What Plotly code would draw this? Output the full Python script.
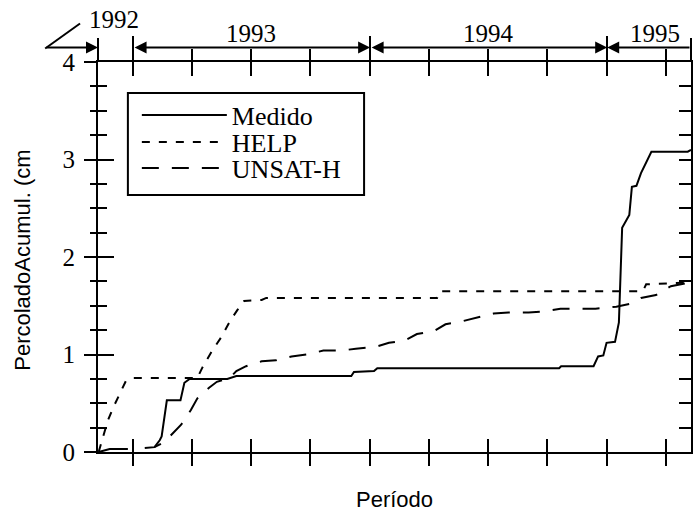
import plotly.graph_objects as go

# ---- data ----
medido_dates = ["1992-11-09", "1992-11-23", "1992-11-26", "1992-12-24", None,
                "1993-02-03", "1993-02-11", "1993-02-14", "1993-02-22", "1993-03-15",
                "1993-03-21", "1993-03-29", "1993-05-26", "1993-06-09", "1993-12-03",
                "1993-12-07", "1994-01-07", "1994-01-12", "1994-10-19", "1994-10-22",
                "1994-12-11", "1994-12-18", "1994-12-26", "1994-12-31", "1995-01-13",
                "1995-01-19", "1995-01-21", "1995-01-24", "1995-02-04", "1995-02-08",
                "1995-02-15", "1995-02-22", "1995-03-10", "1995-05-05", "1995-05-10"]
medido_vals = [0.0, 0.02, 0.03, 0.03, None,
               0.05, 0.12, 0.16, 0.53, 0.53,
               0.71, 0.75, 0.75, 0.78, 0.78,
               0.82, 0.83, 0.86, 0.86, 0.88,
               0.88, 0.98, 0.99, 1.12, 1.13,
               1.33, 1.66, 2.30, 2.43, 2.72,
               2.73, 2.86, 3.08, 3.08, 3.10]

help_dates = ["1992-11-09", "1992-11-17", "1992-11-23", "1992-12-01", "1992-12-09",
              "1992-12-15", "1992-12-21", "1992-12-30", "1993-04-10", "1993-04-18",
              "1993-05-02", "1993-05-17", "1993-05-30", "1993-06-11", "1993-06-21",
              "1993-07-18", "1993-07-25", "1994-04-14", "1994-04-18", "1995-02-25",
              "1995-03-02", "1995-05-10"]
help_vals = [0.0, 0.20, 0.32, 0.45, 0.56,
             0.65, 0.73, 0.76, 0.76, 0.87,
             1.03, 1.18, 1.34, 1.46, 1.55,
             1.56, 1.58, 1.58, 1.65, 1.65,
             1.72, 1.74]

unsat_dates = ["1993-01-19", "1993-02-03", "1993-02-18", "1993-03-01", "1993-03-16",
               "1993-03-31", "1993-04-10", "1993-04-28", "1993-05-10", "1993-05-30",
               "1993-06-09", "1993-06-24", "1993-07-18", "1993-08-09", "1993-09-02",
               "1993-09-25", "1993-10-21", "1993-11-18", "1993-12-10", "1994-01-10",
               "1994-01-30", "1994-02-22", "1994-03-14", "1994-04-09", "1994-04-27",
               "1994-05-22", "1994-06-17", "1994-07-10", "1994-08-02", "1994-09-02",
               "1994-09-25", "1994-10-21", "1994-12-14", "1995-01-15", "1995-02-05",
               "1995-02-22", "1995-03-17", "1995-04-09", "1995-05-10"]
unsat_vals = [0.04, 0.05, 0.10, 0.18, 0.28,
              0.43, 0.55, 0.66, 0.72, 0.76,
              0.83, 0.88, 0.93, 0.94, 0.98,
              1.00, 1.04, 1.04, 1.06, 1.08,
              1.12, 1.14, 1.21, 1.24, 1.31,
              1.34, 1.38, 1.42, 1.43, 1.43,
              1.44, 1.47, 1.47, 1.49, 1.52,
              1.58, 1.61, 1.70, 1.74]

x_range = ["1992-11-08", "1995-05-10"]
y_range = [0, 4]
year_starts = ["1993-01-01", "1994-01-01", "1995-01-01"]
year_labels = ["1992", "1993", "1994", "1995"]
series_names = ["Medido", "HELP", "UNSAT-H"]

SERIF = "Liberation Serif"
SANS = "Liberation Sans"

fig = go.Figure()
legend_ids = ["legend", "legend2", "legend3"]
fig.add_trace(go.Scatter(x=medido_dates, y=medido_vals, mode="lines", name=series_names[0],
                         line=dict(color="black", width=2), connectgaps=False,
                         legend=legend_ids[0]))
fig.add_trace(go.Scatter(x=help_dates, y=help_vals, mode="lines", name=series_names[1],
                         line=dict(color="black", width=2, dash="8px,9px"),
                         legend=legend_ids[1]))
fig.add_trace(go.Scatter(x=unsat_dates, y=unsat_vals, mode="lines", name=series_names[2],
                         line=dict(color="black", width=2, dash="17px,13px"),
                         legend=legend_ids[2]))

# invisible helpers so the overlaid tick-only axes are drawn
for xa, ya in [("x2", "y"), ("x3", "y"), ("x4", "y"), ("x", "y2"), ("x", "y3")]:
    fig.add_trace(go.Scatter(x=[x_range[0]], y=[y_range[0]], xaxis=xa, yaxis=ya,
                             mode="lines", showlegend=False, hoverinfo="skip",
                             line=dict(width=0)))

common_x = dict(type="date", range=x_range, showgrid=False, zeroline=False,
                showticklabels=False, tickcolor="black", tickwidth=2,
                dtick="M3", tick0="1993-01-01")

legend_common = dict(xanchor="left", yanchor="middle", bgcolor="rgba(0,0,0,0)",
                     borderwidth=0, font=dict(family=SERIF, size=26, color="black"),
                     itemwidth=85)

fig.update_layout(
    width=698, height=512,
    margin=dict(l=98, r=5, t=62, b=60),
    paper_bgcolor="white", plot_bgcolor="white",
    showlegend=True,
    legend=dict(x=0.0655, y=0.8641, **legend_common),
    legend2=dict(x=0.0655, y=0.7949, **legend_common),
    legend3=dict(x=0.0655, y=0.7282, **legend_common),
    xaxis=dict(**common_x, showline=True, linecolor="black", linewidth=2, mirror=True,
               ticks="outside", ticklen=12),
    xaxis2=dict(**common_x, overlaying="x", side="bottom", anchor="y",
                ticks="inside", ticklen=13, showline=False),
    xaxis3=dict(type="date", range=x_range, overlaying="x", side="top", anchor="y",
                showgrid=False, zeroline=False, showticklabels=False, showline=False,
                ticks="outside", ticklen=25, tickwidth=2, tickcolor="black",
                dtick="M12", tick0="1993-01-01",
                minor=dict(ticks="outside", ticklen=12, tickwidth=2, tickcolor="black",
                           dtick="M3", tick0="1993-01-01", showgrid=False)),
    xaxis4=dict(**common_x, overlaying="x", side="top", anchor="y",
                ticks="inside", ticklen=14, showline=False),
    yaxis=dict(range=y_range, showgrid=False, zeroline=False, showline=True,
               linecolor="black", linewidth=2, mirror=True,
               ticks="outside", ticklen=12, tickwidth=2, tickcolor="black",
               dtick=1, tick0=0, ticklabelstandoff=4,
               tickfont=dict(family=SERIF, size=25, color="black"),
               minor=dict(ticks="outside", ticklen=6, tickwidth=2, tickcolor="black",
                          dtick=0.25, showgrid=False)),
    yaxis2=dict(range=y_range, overlaying="y", side="left", anchor="x",
                showgrid=False, zeroline=False, showline=False, showticklabels=False,
                ticks="inside", ticklen=16, tickwidth=2, tickcolor="black", dtick=1, tick0=0,
                minor=dict(ticks="inside", ticklen=9, tickwidth=2, tickcolor="black",
                           dtick=0.25, showgrid=False)),
    yaxis3=dict(range=y_range, overlaying="y", side="right", anchor="x",
                showgrid=False, zeroline=False, showline=False, showticklabels=False,
                ticks="inside", ticklen=12, tickwidth=2, tickcolor="black",
                dtick=0.25, tick0=0),
)

# legend frame
fig.add_shape(type="rect", xref="paper", yref="paper", x0=0.0504, x1=0.4487,
              y0=0.659, y1=0.9205, line=dict(color="black", width=2))

# left / right edges extended above the frame
for xp in [0, 1]:
    fig.add_shape(type="line", xref="paper", yref="paper", x0=xp, x1=xp, y0=1, y1=1.0615,
                  line=dict(color="black", width=2))

arrow_y = 1.0372
# 1992 arrow (pointing right to the left edge) + slash
fig.add_annotation(x=x_range[0], y=arrow_y, xref="x", yref="paper", text="",
                   showarrow=True, axref="pixel", ayref="pixel", ax=-53, ay=0,
                   arrowhead=2, arrowsize=1.2, arrowwidth=2, arrowcolor="black", standoff=0)
fig.add_shape(type="line", xref="paper", yref="paper",
              x0=-0.0891, y0=1.0346, x1=-0.0303, y1=1.0987,
              line=dict(color="black", width=2))

# year span arrows
spans = [(year_starts[0], year_starts[1]), (year_starts[1], year_starts[2])]
for a, b in spans:
    fig.add_annotation(x=b, y=arrow_y, xref="x", yref="paper", text="",
                       showarrow=True, axref="x", ayref="pixel", ax=a, ay=0,
                       arrowhead=2, startarrowhead=2, arrowside="end+start",
                       arrowsize=1.2, startarrowsize=1.2, arrowwidth=2,
                       arrowcolor="black", standoff=0, startstandoff=0)
fig.add_annotation(x=year_starts[2], y=arrow_y, xref="x", yref="paper", text="",
                   showarrow=True, axref="x", ayref="pixel", ax=x_range[1], ay=0,
                   arrowhead=2, arrowsize=1.2, arrowwidth=2, arrowcolor="black", standoff=0)

# year labels
label_pos = [("1992-12-02", 1.108), ("1993-07-02", 1.074), ("1994-07-02", 1.074), ("1995-03-15", 1.074)]
for (xd, yp), t in zip(label_pos, year_labels):
    fig.add_annotation(x=xd, y=yp, xref="x", yref="paper", text=t, showarrow=False,
                       xanchor="center", yanchor="middle",
                       font=dict(family=SERIF, size=25, color="black"))

# axis titles
fig.add_annotation(x=-0.1277, y=0.2026, xref="paper", yref="paper",
                   text="PercoladoAcumul. (cm", textangle=-90, showarrow=False,
                   xanchor="center", yanchor="bottom",
                   font=dict(family=SANS, size=22, color="black"))
fig.add_annotation(x=0.5, y=-0.123, xref="paper", yref="paper", text="Período",
                   showarrow=False, xanchor="center", yanchor="middle",
                   font=dict(family=SANS, size=22, color="black"))

fig.write_html("out.html")
